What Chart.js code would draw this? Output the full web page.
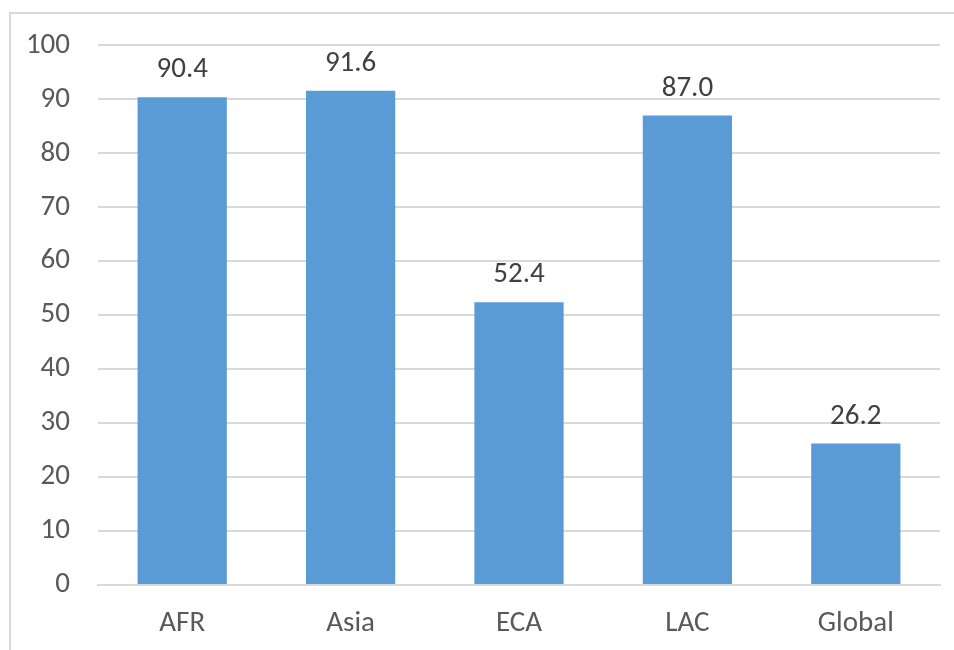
<!DOCTYPE html>
<html>
<head>
<meta charset="utf-8">
<script src="https://cdn.jsdelivr.net/npm/chart.js@4.4.0/dist/chart.umd.min.js"></script>
<style>
  html, body { margin: 0; padding: 0; background: #fff; overflow: hidden; }
  #wrap { position: relative; width: 954px; height: 650px; }
  #frame { position: absolute; left: 9px; top: 12px; width: 960px; height: 660px; border: 2px solid #d9d9d9; box-sizing: border-box; }
  canvas { position: absolute; left: 0; top: 0; }
</style>
</head>
<body>
<div id="wrap">
  <div id="frame"></div>
  <canvas id="chart" width="954" height="650"></canvas>
</div>
<script>
const categories = ["AFR", "Asia", "ECA", "LAC", "Global"];
const values = [90.4, 91.6, 52.4, 87.0, 26.2];
const yTicks = [0, 10, 20, 30, 40, 50, 60, 70, 80, 90, 100];

const FONT = "Carlito, 'Open Sans', 'Liberation Sans', sans-serif";

// labels above each bar
const barLabels = {
  id: 'barLabels',
  afterDatasetsDraw(chart) {
    const ctx = chart.ctx;
    const meta = chart.getDatasetMeta(0);
    ctx.save();
    ctx.font = "29px " + FONT;
    ctx.fillStyle = "#404040";
    ctx.textAlign = "center";
    ctx.textBaseline = "middle";
    meta.data.forEach((bar, i) => {
      ctx.fillText(values[i].toFixed(1), bar.x, bar.y - 27);
    });
    ctx.restore();
  }
};

let ctx = document.getElementById('chart');
window.mainChart = new Chart(ctx, {
  type: 'bar',
  data: {
    labels: categories,
    datasets: [{
      data: values,
      backgroundColor: "#5b9bd5",
      borderWidth: 0,
      barPercentage: 0.53,
      categoryPercentage: 1.0
    }]
  },
  options: {
    responsive: false,
    animation: false,
    layout: {
      padding: { left: 10, right: 14, top: 41, bottom: 15 }
    },
    plugins: {
      legend: { display: false },
      tooltip: { enabled: false }
    },
    scales: {
      x: {
        grid: { display: false, drawTicks: false },
        border: { display: true, color: "#d9d9d9", width: 2 },
        ticks: {
          color: "#595959",
          font: { family: FONT, size: 29 },
          padding: 21
        },
        afterFit(axis) { axis.height = 50; }
      },
      y: {
        min: 0,
        max: 100,
        afterBuildTicks(axis) { axis.ticks = yTicks.map(v => ({ value: v })); },
        grid: { color: "#d9d9d9", lineWidth: 2, drawTicks: false },
        border: { display: false },
        ticks: {
          color: "#595959",
          font: { family: FONT, size: 29 },
          padding: 28
        },
        afterFit(axis) { axis.width = 88; }
      }
    }
  },
  plugins: [barLabels]
});
</script>
</body>
</html>
